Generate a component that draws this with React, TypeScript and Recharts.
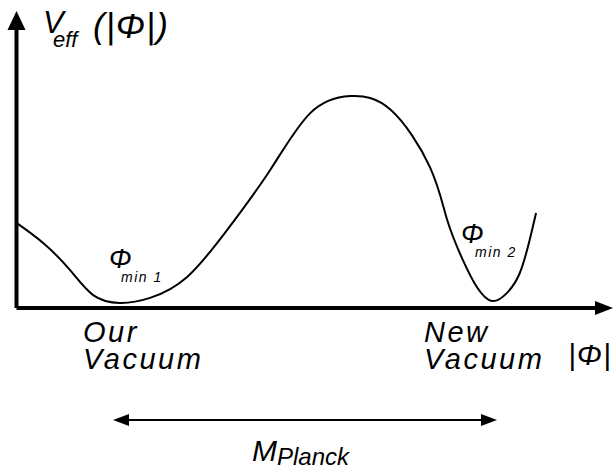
import { LineChart, Line, XAxis, YAxis, ReferenceLine, ReferenceDot, Customized } from "recharts";

// |Φ| values and V_eff(|Φ|) (arbitrary units, 0..100)
const PHI = [0, 4.6, 9.2, 13.2, 17.8, 23.0, 29.4, 36.3, 43.7, 50.6, 57.5, 64.5, 71.2, 74.2, 76.9, 79.3, 81.9, 84.5, 86.7, 88.4, 89.5];
const VEFF = [30.4, 23.2, 13.6, 4.6, 1.8, 3.6, 11.1, 27.9, 49.3, 69.6, 75.7, 70.7, 50.4, 31.4, 17.1, 7.5, 2.5, 5.4, 12.5, 24.3, 33.9];

const data = PHI.map((p, i) => ({ phi: p, v: VEFF[i] }));

const FONT = "'Liberation Sans', Arial, sans-serif";

const arrowRight = (p: any) => (
  <polygon points={`${p.cx - 2},${p.cy - 7} ${p.cx + 16},${p.cy} ${p.cx - 2},${p.cy + 7}`} fill="#000" />
);
const arrowUp = (p: any) => (
  <polygon points={`${p.cx - 9},${p.cy + 2} ${p.cx},${p.cy - 17} ${p.cx + 9},${p.cy + 2}`} fill="#000" />
);

function Annotations() {
  const t = { fontFamily: FONT, fontStyle: "italic", fill: "#000" } as const;
  return (
    <g>
      <text x={43} y={33} fontSize={31} {...t}>V</text>
      <text x={53} y={47} fontSize={22} {...t}>eff</text>
      <text x={93} y={38} fontSize={35} letterSpacing={1} {...t}>(|Φ|)</text>

      <text x={109} y={268} fontSize={27} {...t}>Φ</text>
      <text x={121} y={282} fontSize={14} letterSpacing={1.5} {...t}>min 1</text>
      <text x={461} y={243} fontSize={27} {...t}>Φ</text>
      <text x={475} y={257} fontSize={14} letterSpacing={1.5} {...t}>min 2</text>

      <text x={83} y={342} fontSize={29} letterSpacing={2.5} {...t}>Our</text>
      <text x={83} y={369} fontSize={29} letterSpacing={2.5} {...t}>Vacuum</text>
      <text x={424} y={342} fontSize={29} letterSpacing={2.5} {...t}>New</text>
      <text x={424} y={369} fontSize={29} letterSpacing={2.5} {...t}>Vacuum</text>
      <text x={568} y={365} fontSize={30} letterSpacing={1} {...t}>|Φ|</text>

      <line x1={126} y1={420} x2={484} y2={420} stroke="#000" strokeWidth={2} />
      <polygon points="113,420 129,414 129,426" fill="#000" />
      <polygon points="497,420 481,414 481,426" fill="#000" />

      <text x={252} y={461} fontSize={30} {...t}>M</text>
      <text x={277} y={465} fontSize={24} {...t}>Planck</text>
    </g>
  );
}

export default function App() {
  return (
    <div style={{ position: "absolute", left: 0, top: 0, width: 614, height: 465, background: "#fff" }}>
      <LineChart
        width={614}
        height={465}
        data={data}
        margin={{ top: 28, right: 17, bottom: 157, left: 16.5 }}
      >
        <XAxis type="number" dataKey="phi" domain={[0, 100]} hide />
        <YAxis type="number" domain={[0, 100]} hide />
        <ReferenceLine y={0} stroke="#000" strokeWidth={4} ifOverflow="visible" />
        <ReferenceLine x={0} stroke="#000" strokeWidth={4} ifOverflow="visible" />
        <ReferenceDot x={100} y={0} shape={arrowRight} ifOverflow="visible" />
        <ReferenceDot x={0} y={100} shape={arrowUp} ifOverflow="visible" />
        <Line
          type="natural"
          dataKey="v"
          stroke="#000"
          strokeWidth={2}
          dot={false}
          isAnimationActive={false}
        />
        <Customized component={<Annotations />} />
      </LineChart>
    </div>
  );
}
